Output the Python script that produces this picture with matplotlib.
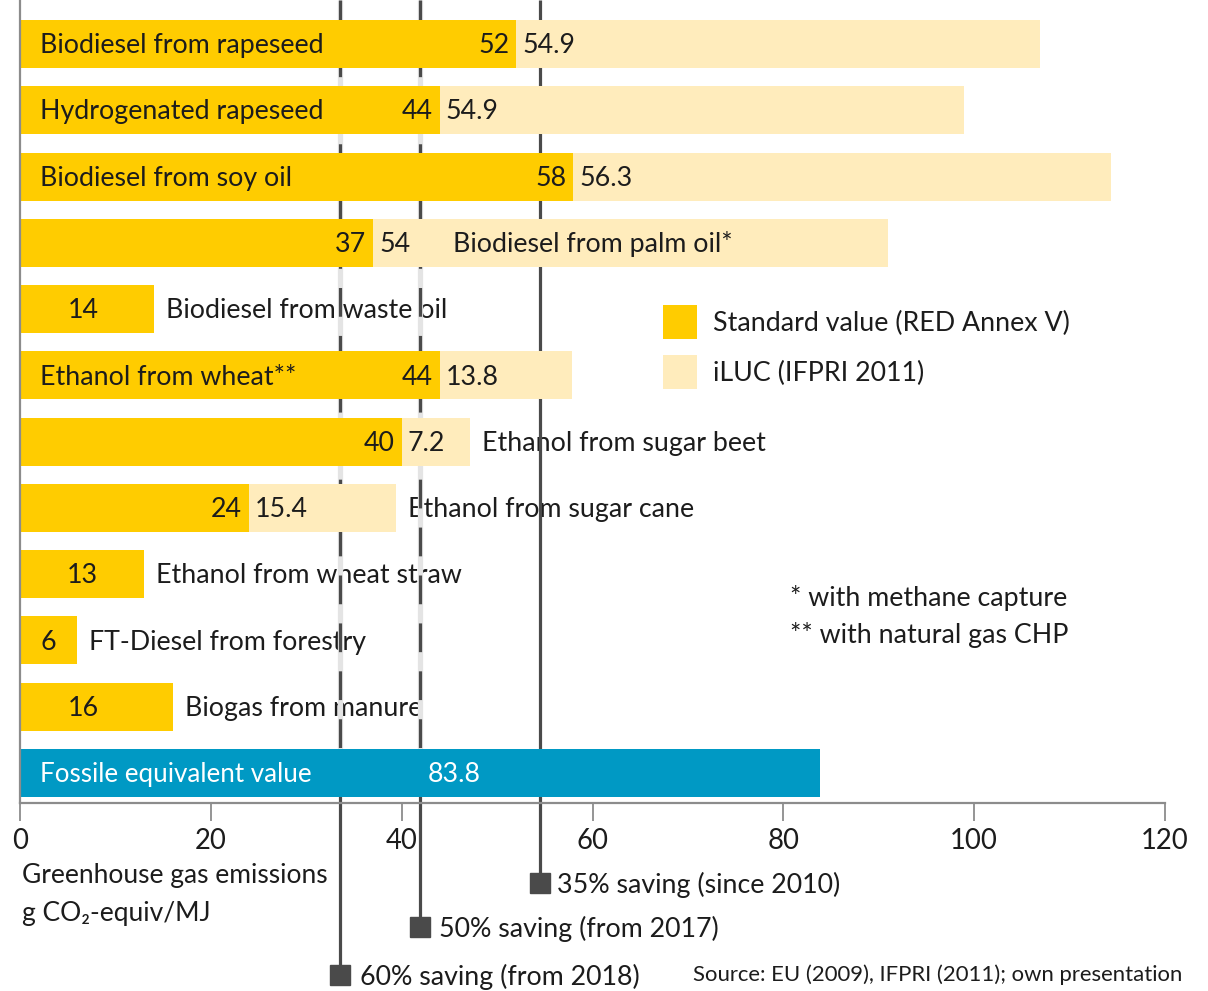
import matplotlib
matplotlib.use("Agg")
import matplotlib.pyplot as plt
from matplotlib.patches import Rectangle
import numpy as np

# ---------------- data ----------------
fuels = ["Biodiesel from rapeseed", "Hydrogenated rapeseed", "Biodiesel from soy oil",
         "Biodiesel from palm oil*", "Biodiesel from waste oil", "Ethanol from wheat**",
         "Ethanol from sugar beet", "Ethanol from sugar cane", "Ethanol from wheat straw",
         "FT-Diesel from forestry", "Biogas from manure"]
standard = [52, 44, 58, 37, 14, 44, 40, 24, 13, 6, 16]
iluc = [54.9, 54.9, 56.3, 54, 0, 13.8, 7.2, 15.4, 0, 0, 0]
iluc_labels = ["54.9", "54.9", "56.3", "54", "", "13.8", "7.2", "15.4", "", "", ""]
fossil_label = "Fossile equivalent value"
fossil_value = 83.8
savings = [35, 50, 60]
saving_labels = ["35% saving (since 2010)", "50% saving (from 2017)", "60% saving (from 2018)"]
legend_labels = ["Standard value (RED Annex V)", "iLUC (IFPRI 2011)"]
notes = ["* with methane capture", "** with natural gas CHP"]
xticks = [0, 20, 40, 60, 80, 100, 120]
axis_title = ["Greenhouse gas emissions", "g CO\u2082-equiv/MJ"]
source = "Source: EU (2009), IFPRI (2011); own presentation"

# placement of fuel names: 'in' = inside bar at left, 'val' = after iLUC value, 'out' = after bar
name_pos = ["in", "in", "in", "val", "out", "in", "out", "out", "out", "out", "out"]

# ---------------- style ----------------
YEL = "#FFCC00"
LIGHT = "#FFECBC"
BLUE = "#0099C4"
DARK = "#4a4a4a"
TXT = "#1c1c1c"
FONT = ["Lato", "DejaVu Sans"]
FS = 19.3
DY = -1.2  # small vertical nudge (points) for texts inside rows

plt.rcParams["font.family"] = FONT

W, H = 1208, 991
fig = plt.figure(figsize=(W / 100, H / 100), dpi=100)
ax = fig.add_axes([20 / W, 1 - 803 / H, 1145 / W, 803 / H])

unit = 66.27
ybot, ytop = 11 + 30 / unit, -44 / unit
ax.set_xlim(0, 120)
ax.set_ylim(ybot, ytop)
bh = 48 / unit


def yfrac_of(y):
    return (ybot - y) / (ybot - ytop)


ys = np.arange(len(fuels))
ax.barh(ys, standard, height=bh, color=YEL, zorder=2)
ax.barh(ys, iluc, left=standard, height=bh, color=LIGHT, zorder=2)
fy = len(fuels)
ax.barh([fy], [fossil_value], height=bh, color=BLUE, zorder=2)


def px2pt(p):
    return p * 0.72


for i, (name, s, l, ll) in enumerate(zip(fuels, standard, iluc, iluc_labels)):
    total = s + l
    if name_pos[i] == "out" and l == 0:
        ax.annotate(str(s), (min(s / 2, 6.6), i), xytext=(0, DY), textcoords="offset points",
                    ha="center", va="center", fontsize=FS, color=TXT, zorder=3)
    else:
        ax.annotate(str(s), (s, i), xytext=(-px2pt(7), DY), textcoords="offset points",
                    ha="right", va="center", fontsize=FS, color=TXT, zorder=3)
    if l > 0:
        ax.annotate(ll, (s, i), xytext=(px2pt(6), DY), textcoords="offset points",
                    ha="left", va="center", fontsize=FS, color=TXT, zorder=3)
    if name_pos[i] == "in":
        ax.annotate(name, (0, i), xytext=(px2pt(20), DY), textcoords="offset points",
                    ha="left", va="center", fontsize=FS, color=TXT, zorder=3)
    elif name_pos[i] == "val":
        ax.annotate(name, (s, i), xytext=(px2pt(80), DY), textcoords="offset points",
                    ha="left", va="center", fontsize=FS, color=TXT, zorder=3)
    else:
        ax.annotate(name, (total, i), xytext=(px2pt(12), DY), textcoords="offset points",
                    ha="left", va="center", fontsize=FS, color=TXT, zorder=1)

ax.annotate(fossil_label, (0, fy), xytext=(px2pt(20), DY), textcoords="offset points",
            ha="left", va="center", fontsize=FS - 0.6, color="white", zorder=3)
ax.annotate(f"{fossil_value}", (45.5, fy), xytext=(0, DY), textcoords="offset points",
            ha="center", va="center", fontsize=FS, color="white", zorder=3)

# saving threshold lines
tr = ax.get_xaxis_transform()
marker_px = [883, 927, 975]
text_px = [555 - 538, 440 - 421, 360 - 340]
fossil_top = fy - bh / 2
for sv, lab, mp, tp in zip(savings, saving_labels, marker_px, text_px):
    x = fossil_value * (1 - sv / 100)
    yfrac = (803 - mp) / 803
    if sv == 35:
        ax.plot([x, x], [1.0, yfrac], transform=tr, color=DARK, lw=2.3,
                zorder=1.6, clip_on=False, solid_capstyle="butt")
    else:
        ax.plot([x, x], [ytop, fossil_top], color="#e4e4e4", lw=3.8,
                zorder=1.5, clip_on=False, solid_capstyle="butt")
        ax.plot([x, x], [ytop, fossil_top], color=DARK, lw=2.3, zorder=1.6,
                clip_on=False, linestyle=(0, (9, 6)))
        ax.plot([x, x], [yfrac_of(fossil_top), yfrac], transform=tr, color=DARK,
                lw=2.3, zorder=1.6, clip_on=False, solid_capstyle="butt")
    ax.plot([x], [yfrac], transform=tr, marker="s", markersize=14.5, color=DARK,
            clip_on=False, zorder=4)
    ax.annotate(lab, (x, yfrac), xycoords=tr, xytext=(px2pt(tp), DY),
                textcoords="offset points", ha="left", va="center", fontsize=FS,
                color=TXT, annotation_clip=False)

# axes styling
for sp in ["top", "right"]:
    ax.spines[sp].set_visible(False)
for sp in ["left", "bottom"]:
    ax.spines[sp].set_color("#8c8c8c")
    ax.spines[sp].set_linewidth(1.6)
ax.set_yticks([])
ax.set_xticks(xticks)
ax.set_xticklabels([str(t) for t in xticks])
ax.tick_params(axis="x", length=13, width=1.3, color="#8c8c8c", pad=5,
               labelsize=FS + 0.5, labelcolor=TXT)

# legend (swatches + labels)
for col, lab, cy in zip([YEL, LIGHT], legend_labels, [322, 372]):
    fig.add_artist(Rectangle((663 / W, 1 - (cy + 17) / H), 34 / W, 34 / H,
                             transform=fig.transFigure, facecolor=col, edgecolor="none"))
    fig.text(713 / W, 1 - (cy + 1.5) / H, lab, fontsize=FS, color=TXT, ha="left", va="center")

# notes
fig.text(790 / W, 1 - 598 / H, notes[0], fontsize=FS, color=TXT, ha="left", va="center")
fig.text(790 / W, 1 - 635 / H, notes[1], fontsize=FS, color=TXT, ha="left", va="center")

# axis title
fig.text(22 / W, 1 - 876 / H, axis_title[0], fontsize=FS - 0.3, color=TXT, ha="left", va="center")
fig.text(22 / W, 1 - 913 / H, axis_title[1], fontsize=FS - 0.3, color=TXT, ha="left", va="center")

# source
fig.text(1182 / W, 1 - 975 / H, source, fontsize=15.9, color=TXT, ha="right", va="center")

fig.savefig("out.png", dpi=100)
